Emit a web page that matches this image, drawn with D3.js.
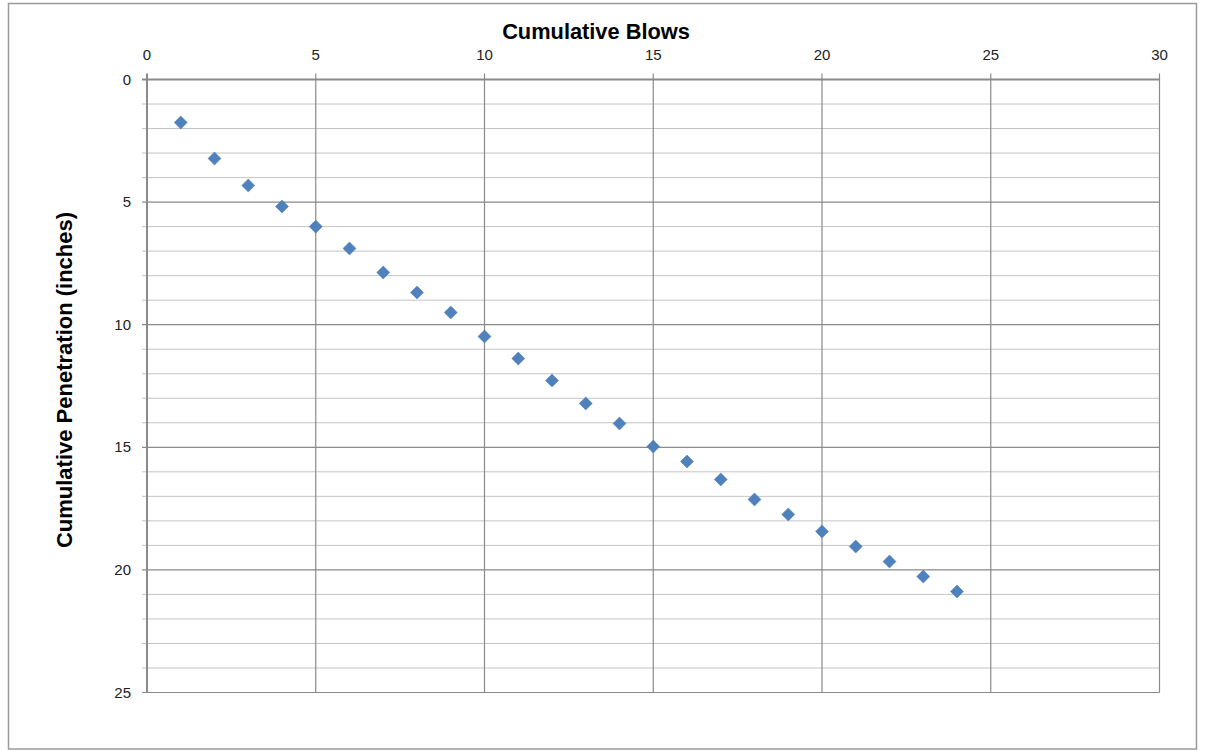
<!DOCTYPE html>
<html><head><meta charset="utf-8">
<script src="https://cdn.jsdelivr.net/npm/d3@7"></script>
<style>body{margin:0;background:#fff}svg{display:block}</style>
</head><body>
<script>
const blows = [1,2,3,4,5,6,7,8,9,10,11,12,13,14,15,16,17,18,19,20,21,22,23,24];
const penetration = [1.75,3.22,4.32,5.18,6.0,6.89,7.87,8.69,9.5,10.48,11.38,12.28,13.21,14.03,14.97,15.58,16.31,17.13,17.74,18.43,19.05,19.66,20.27,20.88];
const xTicks = [0,5,10,15,20,25,30];
const yTicks = [0,5,10,15,20,25];
const yMinor = d3.range(0,26,1);
const xTitle = "Cumulative Blows";
const yTitle = "Cumulative Penetration (inches)";

const W=1209,H=751;
const svg=d3.select("body").append("svg").attr("width",W).attr("height",H);
svg.append("rect").attr("x",8.5).attr("y",3.5).attr("width",1188).attr("height",745.5)
  .attr("fill","#fff").attr("stroke","#9a9a9a").attr("stroke-width",1.5);

const x=d3.scaleLinear().domain([0,30]).range([147,1159.5]);
const y=d3.scaleLinear().domain([0,25]).range([79.5,692.5]);

const g=svg.append("g");
g.selectAll(".ymin").data(yMinor.filter(d=>d%5!==0)).join("line")
  .attr("x1",x(0)-5).attr("x2",x(30)).attr("y1",d=>y(d)).attr("y2",d=>y(d))
  .attr("stroke","#c4c4c4").attr("stroke-width",1);
g.selectAll(".ymaj").data(yTicks).join("line")
  .attr("x1",x(0)-5).attr("x2",x(30)).attr("y1",d=>y(d)).attr("y2",d=>y(d))
  .attr("stroke","#8a8a8a").attr("stroke-width",d=>d===0?2:1.2);
g.selectAll(".xmaj").data(xTicks).join("line")
  .attr("x1",d=>x(d)).attr("x2",d=>x(d)).attr("y1",y(0)-6).attr("y2",y(25))
  .attr("stroke","#8a8a8a").attr("stroke-width",d=>d===0?2:1.2);

const font="'Liberation Sans', Arial, sans-serif";
svg.selectAll(".xl").data(xTicks).join("text")
  .attr("x",d=>x(d)).attr("y",60).attr("text-anchor","middle")
  .attr("font-family",font).attr("font-size",15).attr("fill","#222").text(d=>d);
svg.selectAll(".yl").data(yTicks).join("text")
  .attr("x",131).attr("y",d=>y(d)+5).attr("text-anchor","end")
  .attr("font-family",font).attr("font-size",15).attr("fill","#222").text(d=>d);

svg.append("text").attr("x",596).attr("y",39).attr("text-anchor","middle")
  .attr("font-family",font).attr("font-weight","bold").attr("font-size",21.8).text(xTitle);
svg.append("text").attr("transform","translate(72,380) rotate(-90)").attr("text-anchor","middle")
  .attr("font-family",font).attr("font-weight","bold").attr("font-size",22).text(yTitle);

const sym=d3.symbol().type(d3.symbolDiamond2).size(108);
svg.selectAll(".pt").data(blows.map((b,i)=>[b,penetration[i]])).join("path")
  .attr("d",sym).attr("transform",d=>`translate(${x(d[0])},${y(d[1])})`)
  .attr("fill","#4f81bd").attr("stroke","#4a7ab5").attr("stroke-width",0.5);
</script>
</body></html>
